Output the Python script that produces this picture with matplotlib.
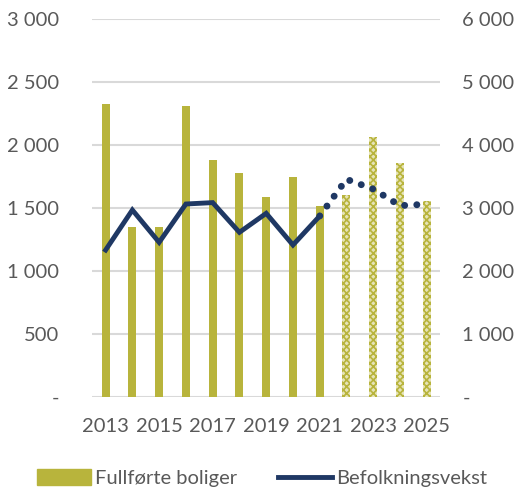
import matplotlib.pyplot as plt
import numpy as np
from matplotlib.patches import Patch
from matplotlib.lines import Line2D

years = list(range(2013, 2026))
boliger = [2325, 1350, 1350, 2312, 1880, 1775, 1590, 1746, 1516, 1603, 2063, 1855, 1556]
vekst_hist = [2333, 2968, 2455, 3063, 3085, 2614, 2915, 2413, 2873]
vekst_prog = [2873, 3455, 3300, 3037, 3060]
left_ticks = [0, 500, 1000, 1500, 2000, 2500, 3000]
left_labels = ['-', '500', '1 000', '1 500', '2 000', '2 500', '3 000']
right_ticks = [0, 1000, 2000, 3000, 4000, 5000, 6000]
right_labels = ['-', '1 000', '2 000', '3 000', '4 000', '5 000', '6 000']
n_hist = 9

olive = '#B8B43C'
navy = '#1F3864'
grey = '#595959'

plt.rcParams['font.family'] = ['Lato', 'DejaVu Sans']
plt.rcParams['hatch.linewidth'] = 1.2

fig = plt.figure(figsize=(5.24, 4.94), dpi=100)
ax = fig.add_axes([0.176, 0.196, 0.664, 0.766])
ax2 = ax.twinx()

x = np.arange(len(years))
ax.bar(x[:n_hist], boliger[:n_hist], width=0.3, color=olive, zorder=2)
ax.bar(x[n_hist:], boliger[n_hist:], width=0.3, color='#E6E4B8', edgecolor=olive,
       hatch='xxxxx', linewidth=0, zorder=2)

ax.set_ylim(0, 3000)
ax.set_xlim(-0.5, len(years) - 0.5)
ax.set_yticks(left_ticks)
ax.set_yticklabels(left_labels)
ax.set_xticks(x[::2])
ax.set_xticklabels([str(y) for y in years[::2]])
ax.grid(axis='y', color='#D9D9D9', linewidth=1.5, zorder=0)
ax.set_axisbelow(True)

ax2.plot(x[:n_hist], vekst_hist, color=navy, linewidth=3.5, solid_joinstyle='miter', zorder=3)
ax2.plot(x[n_hist - 1:], vekst_prog, color=navy, linewidth=5, linestyle=(0, (0.01, 1.75)),
         dash_capstyle='round', zorder=3)
ax2.set_ylim(0, 6000)
ax2.set_yticks(right_ticks)
ax2.set_yticklabels(right_labels)

for a in (ax, ax2):
    for s in a.spines.values():
        s.set_visible(False)
    a.tick_params(length=0, labelsize=14.5, colors=grey)

ax.tick_params(axis='x', pad=15)
ax.tick_params(axis='y', pad=24)
ax2.tick_params(axis='y', pad=16)

handles = [Patch(color=olive), Line2D([0], [0], color=navy, linewidth=3.5)]
fig.legend(handles, ['Fullførte boliger', 'Befolkningsvekst'], loc='center',
           bbox_to_anchor=(0.50, 0.032), ncol=2, frameon=False, fontsize=14.5,
           labelcolor=grey, handlelength=2.7, handleheight=0.8, columnspacing=2.0,
           handletextpad=0.2)

fig.savefig('out.png', dpi=100)
